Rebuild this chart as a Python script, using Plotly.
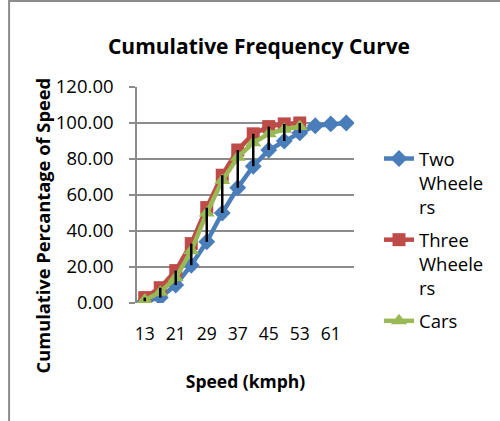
import plotly.graph_objects as go

speeds = [13, 17, 21, 25, 29, 33, 37, 41, 45, 49, 53, 57, 61, 65]
two_wheelers = [1.0, 3.0, 10.0, 21.0, 34.0, 50.0, 64.0, 76.0, 85.0, 90.0, 94.5, 98.5, 99.5, 100.0]
three_wheelers = [3.0, 8.5, 18.0, 33.0, 53.0, 71.0, 85.0, 94.0, 98.0, 99.5, 100.0]
cars = [1.7, 6.0, 14.0, 29.0, 50.0, 68.0, 81.0, 89.0, 94.0, 96.5, 98.0]
tick_labels = ["13", "21", "29", "37", "45", "53", "61"]
y_ticks = [0, 20, 40, 60, 80, 100, 120]

cats = [str(s) for s in speeds]
FONT = "Open Sans"

W, H = 500, 421
L, R, T, B = 137, 145, 87, 118
pw, ph = W - L - R, H - T - B

fig = go.Figure()
fig.add_trace(go.Scatter(x=cats, y=two_wheelers, name="Two<br>Wheele<br>rs",
                         legendgroup="a", mode="lines+markers",
                         line=dict(color="#4A7EBB", width=4.5),
                         marker=dict(symbol="diamond", size=13, color="#4A7EBB")))
fig.add_trace(go.Scatter(x=cats[:len(three_wheelers)], y=three_wheelers, name="Three<br>Wheele<br>rs",
                         legendgroup="b", mode="lines+markers",
                         line=dict(color="#BE4B48", width=4.5),
                         marker=dict(symbol="square", size=13, color="#BE4B48")))
fig.add_trace(go.Scatter(x=cats[:len(cars)], y=cars, name="Cars",
                         legendgroup="c", mode="lines+markers",
                         line=dict(color="#98B954", width=4.5),
                         marker=dict(symbol="triangle-up", size=14, color="#98B954")))

# high-low lines
hx, hy = [], []
for i, c in enumerate(cats):
    vals = [s[i] for s in (two_wheelers, three_wheelers, cars) if i < len(s)]
    hx += [c, c, None]
    hy += [max(vals), min(vals), None]
fig.add_trace(go.Scatter(x=hx, y=hy, mode="lines", showlegend=False,
                         line=dict(color="black", width=2.5), hoverinfo="skip"))

fig.update_layout(
    width=W, height=H,
    margin=dict(l=L, r=R, t=T, b=B),
    paper_bgcolor="white", plot_bgcolor="white",
    font=dict(family=FONT, color="black"),
    title=dict(text="<b>Cumulative Frequency Curve</b>", x=259 / W, xanchor="center",
               y=1 - 47 / H, yanchor="middle", font=dict(size=21, family=FONT)),
    showlegend=True,
    legend=dict(x=(379 - L) / pw, xanchor="left", y=(303 - 140) / ph, yanchor="top",
                font=dict(size=18.5, family=FONT), valign="top",
                bgcolor="rgba(0,0,0,0)", tracegroupgap=6),
    xaxis=dict(type="category", categoryorder="array", categoryarray=cats,
               range=[-0.5, len(cats) - 0.5],
               tickmode="array", tickvals=[t for t in tick_labels], ticktext=tick_labels,
               showgrid=False, zeroline=False, showline=False, ticks="",
               ticklabelstandoff=18,
               tickfont=dict(size=17.5, family=FONT),
               title=dict(text="<b>Speed (kmph)</b>", font=dict(size=17.5, family=FONT), standoff=32)),
    yaxis=dict(range=[0, 120], tickmode="array", tickvals=y_ticks,
               ticktext=[f"{v:.2f}" for v in y_ticks],
               showgrid=True, gridcolor="#8C8C8C", gridwidth=1.5,
               zeroline=False, showline=True, linecolor="#8C8C8C", linewidth=1.5,
               ticks="outside", ticklen=6, tickcolor="#8C8C8C", tickwidth=1.5,
               ticklabelstandoff=12,
               tickfont=dict(size=18.5, family=FONT)),
    annotations=[dict(text="<b>Cumulative Percantage of Speed</b>", textangle=-90,
                      xref="paper", yref="paper", x=(42 - L) / pw, y=(H - B - 225) / ph,
                      xanchor="center", yanchor="middle", showarrow=False,
                      font=dict(size=18.3, family=FONT))],
    shapes=[dict(type="rect", xref="paper", yref="paper",
                 x0=(8.5 - L) / pw, x1=(W + 20 - L) / pw,
                 y0=-(B + 20) / ph, y1=(H - B - 1) / ph,
                 line=dict(color="#8C8C8C", width=2), layer="below")],
)

fig.write_html("out.html")
